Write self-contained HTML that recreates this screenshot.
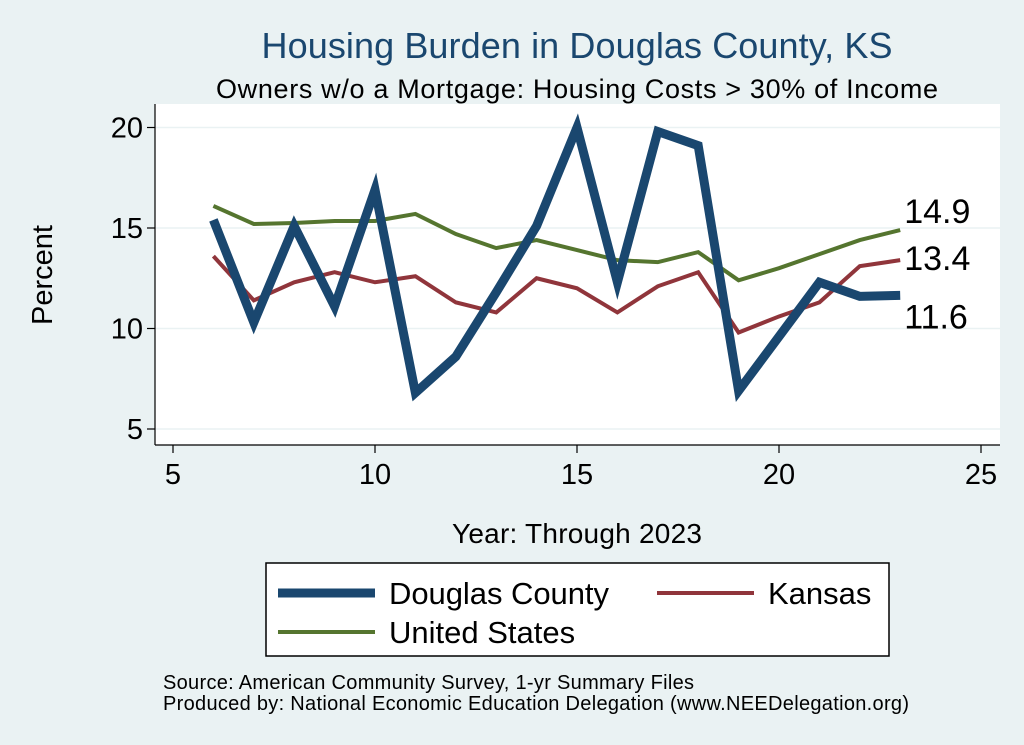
<!DOCTYPE html>
<html><head><meta charset="utf-8"><style>
body{margin:0;background:#eaf2f3;font-family:"Liberation Sans",Arial,sans-serif}
svg{display:block}
</style></head><body>
<svg width="1024" height="745" font-family="Liberation Sans, Arial, sans-serif">
<rect x="0" y="0" width="1024" height="745" fill="#eaf2f3"/>
<text x="577" y="58" text-anchor="middle" font-size="36" fill="#1a476f" textLength="631">Housing Burden in Douglas County, KS</text>
<text x="577" y="98" text-anchor="middle" font-size="27" fill="#000" textLength="722">Owners w/o a Mortgage: Housing Costs &gt; 30% of Income</text>
<rect x="155" y="104" width="845" height="341" fill="#fff"/>
<g id="grid"></g>
<g id="axes"></g>
<g id="series"></g>
<text x="52" y="275" text-anchor="middle" font-size="29" transform="rotate(-90 52 275)">Percent</text>
<text x="577" y="543" text-anchor="middle" font-size="28" textLength="250">Year: Through 2023</text>
<g>
<rect x="266" y="563" width="623" height="93" fill="#fff" stroke="#000" stroke-width="1.5"/>
<line x1="278" y1="593" x2="375" y2="593" stroke="#1a476f" stroke-width="9"/>
<text x="389" y="604" font-size="31" textLength="220">Douglas County</text>
<line x1="657" y1="593" x2="754" y2="593" stroke="#90353b" stroke-width="4"/>
<text x="768" y="604" font-size="31">Kansas</text>
<line x1="278" y1="632" x2="375" y2="632" stroke="#55752f" stroke-width="4"/>
<text x="389" y="643" font-size="31">United States</text>
</g>
<text x="163" y="689" font-size="20" textLength="531">Source: American Community Survey, 1-yr Summary Files</text>
<text x="163" y="710" font-size="20" textLength="746">Produced by: National Economic Education Delegation (www.NEEDelegation.org)</text>
</svg>
<script>
const years=[6,7,8,9,10,11,12,13,14,15,16,17,18,19,20,21,22,23];
const douglas=[15.4,10.3,15.1,11.1,16.9,6.8,8.6,11.8,15.1,20.0,12.3,19.8,19.1,6.9,9.6,12.3,11.6,11.65];
const kansas=[13.6,11.4,12.3,12.8,12.3,12.6,11.3,10.8,12.5,12.0,10.8,12.1,12.8,9.8,10.6,11.3,13.1,13.4];
const us=[16.1,15.2,15.25,15.35,15.35,15.7,14.7,14.0,14.4,13.9,13.4,13.3,13.8,12.4,13.0,13.7,14.4,14.9];
const xTicks=[5,10,15,20,25];
const yTicks=[5,10,15,20];
const endLabels=["14.9","13.4","11.6"];
const NS="http://www.w3.org/2000/svg";
const X=v=>173+(v-5)*40.4;
const Y=v=>429-(v-5)*20.1;
function mk(tag,attrs,parent){const e=document.createElementNS(NS,tag);for(const k in attrs)e.setAttribute(k,attrs[k]);document.getElementById(parent).appendChild(e);return e;}
yTicks.forEach(t=>{
 const g=mk('line',{x1:155,x2:1000,y1:Y(t),y2:Y(t),stroke:'#eaf2f3','stroke-width':1.5},'grid');
 
 
 const tk=mk('line',{x1:147,x2:155,y1:Y(t),y2:Y(t),stroke:'#000','stroke-width':1.2},'axes');
 
 
 const l=mk('text',{x:143,y:Y(t)+10,'text-anchor':'end','font-size':29},'axes');
 l.textContent=t;
 
 
});
xTicks.forEach(t=>{
 const tk=mk('line',{x1:X(t),x2:X(t),y1:445,y2:453,stroke:'#000','stroke-width':1.2},'axes');
 
 
 const l=mk('text',{x:X(t),y:484,'text-anchor':'middle','font-size':29},'axes');
 l.textContent=t;
 
 
});
const ya=mk('line',{x1:155,x2:155,y1:104,y2:445,stroke:'#000','stroke-width':1.2},'axes');


const xa=mk('line',{x1:155,x2:1000,y1:445,y2:445,stroke:'#000','stroke-width':1.2},'axes');


function line(vals,color,w,name){
 const p=mk('polyline',{points:vals.map((v,i)=>X(years[i])+','+Y(v)).join(' '),fill:'none',stroke:color,'stroke-width':w,'stroke-linejoin':'miter','stroke-miterlimit':10},'series');
 
 
}
line(us,'#55752f',4,'line-united-states');
line(kansas,'#90353b',4,'line-kansas');
line(douglas,'#1a476f',9,'line-douglas-county');
const last=years.length-1;
[us,kansas,douglas].forEach((s,i)=>{
 const t=mk('text',{x:X(years[last])+4,y:0,'font-size':34},'series');
 t.setAttribute('y',i==0?Y(s[last])-7:(i==1?Y(s[last])+10:Y(s[last])+33));
 t.textContent=endLabels[i];
 
 
});
</script>
</body></html>
